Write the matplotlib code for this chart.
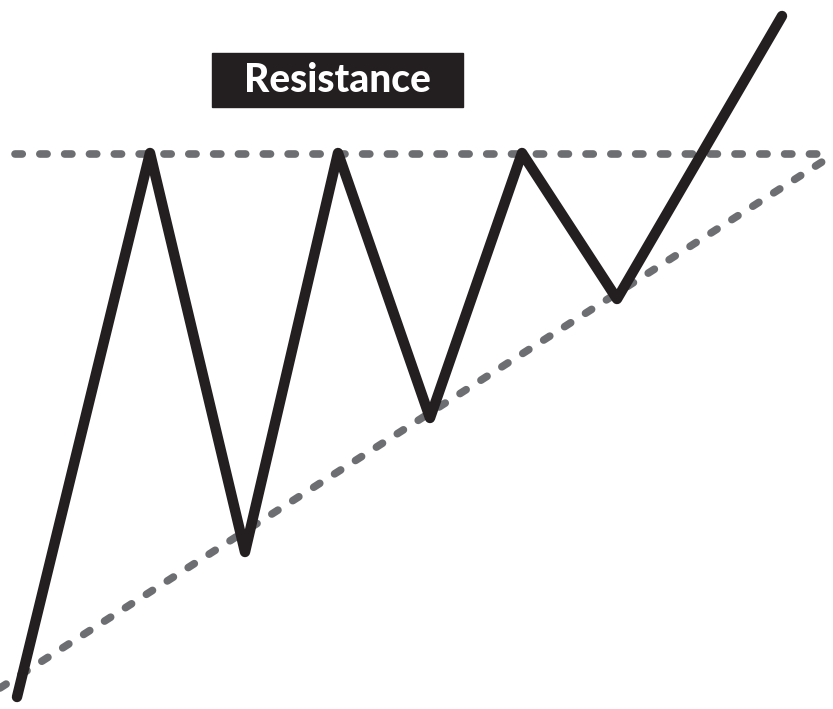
import matplotlib.pyplot as plt
from matplotlib.patches import Rectangle

# price path (x position, price level), y measured up from the bottom
xs = [17, 150, 245, 338, 430, 522, 617, 782]
prices = [12, 556, 157, 556, 291, 556, 410, 693]

resistance = 555
support_x = [0, 850]
support_y = [21, 565]

label = "Resistance"

fig = plt.figure(figsize=(8.33, 7.09), dpi=100)
ax = fig.add_axes([0, 0, 1, 1])
ax.set_xlim(0, 833)
ax.set_ylim(0, 709)
ax.axis("off")

gray = "#6d6e71"
dash = (0, (0.95, 2.3))
ax.plot([15, 850], [resistance, resistance], color=gray, lw=5.5,
        linestyle=dash, dash_capstyle="round")
ax.plot(support_x, support_y, color=gray, lw=5.5,
        linestyle=dash, dash_capstyle="round")

ax.plot(xs, prices, color="#231f20", lw=7.5, solid_capstyle="round",
        solid_joinstyle="round")

ax.add_patch(Rectangle((212, 709 - 107), 251, 54, color="#231f20"))
ax.text(337.5, 709 - 81, label, color="white", fontsize=28,
        fontweight="black", family="Lato", ha="center", va="center")

fig.savefig("out.png", dpi=100)
